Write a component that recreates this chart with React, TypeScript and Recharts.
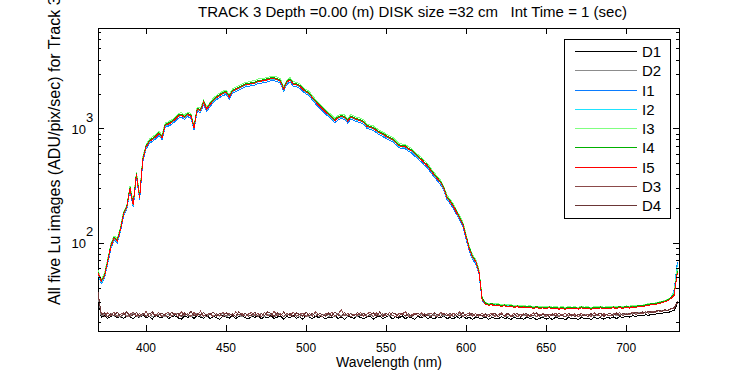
import React from "react";
import { LineChart, Line, XAxis, YAxis, Legend, ReferenceArea } from "recharts";

// ── Data (2 nm sampling) ─────────────────────────────────────────────────────

const WAVELENGTH = [
  370, 372, 374, 376, 378, 380, 382, 384, 386, 388, 390, 392, 394, 396, 398, 400, 402, 404, 406, 408,
  410, 412, 414, 416, 418, 420, 422, 424, 426, 428, 430, 432, 434, 436, 438, 440, 442, 444, 446, 448,
  450, 452, 454, 456, 458, 460, 462, 464, 466, 468, 470, 472, 474, 476, 478, 480, 482, 484, 486, 488,
  490, 492, 494, 496, 498, 500, 502, 504, 506, 508, 510, 512, 514, 516, 518, 520, 522, 524, 526, 528,
  530, 532, 534, 536, 538, 540, 542, 544, 546, 548, 550, 552, 554, 556, 558, 560, 562, 564, 566, 568,
  570, 572, 574, 576, 578, 580, 582, 584, 586, 588, 590, 592, 594, 596, 598, 600, 602, 604, 606, 608,
  610, 612, 614, 616, 618, 620, 622, 624, 626, 628, 630, 632, 634, 636, 638, 640, 642, 644, 646, 648,
  650, 652, 654, 656, 658, 660, 662, 664, 666, 668, 670, 672, 674, 676, 678, 680, 682, 684, 686, 688,
  690, 692, 694, 696, 698, 700, 702, 704, 706, 708, 710, 712, 714, 716, 718, 720, 722, 724, 726, 728,
  730, 732,
];

const D1 = [
  34, 22.4, 23.1, 21.9, 22.7, 23.5, 22.1, 22.9, 21.8, 23.2,
  22.5, 21.9, 23.0, 22.3, 23.6, 22.0, 22.8, 21.7, 23.3, 22.6,
  22.1, 23.4, 21.8, 22.7, 23.1, 22.2, 21.6, 23.0, 22.4, 22.9,
  21.9, 23.2, 22.5, 22.0, 23.5, 21.8, 22.8, 22.3, 21.5, 23.1,
  22.6, 22.0, 23.3, 21.9, 22.7, 23.0, 22.2, 21.7, 22.9, 22.4,
  23.2, 21.8, 22.6, 22.1, 23.4, 21.9, 22.5, 23.0, 21.6, 22.8,
  22.2, 23.1, 21.9, 22.6, 21.5, 23.3, 22.4, 21.8, 22.9, 22.3,
  23.0, 21.7, 22.5, 22.1, 23.2, 21.9, 22.7, 21.4, 22.8, 22.4,
  21.9, 23.1, 22.3, 21.8, 22.6, 23.0, 21.6, 22.4, 22.9, 21.8,
  22.5, 23.2, 21.7, 22.7, 22.0, 23.1, 21.8, 22.6, 22.2, 21.5,
  22.9, 22.1, 23.0, 21.8, 22.4, 21.6, 22.7, 22.2, 23.1, 21.9,
  22.3, 21.7, 22.8, 22.0, 23.0, 21.8, 22.5, 21.4, 22.6, 22.1,
  21.8, 22.6, 21.5, 22.3, 22.0, 21.6, 22.7, 21.9, 22.2, 21.4,
  22.5, 21.7, 22.1, 21.5, 22.6, 21.9, 22.3, 21.3, 22.0, 22.4,
  21.6, 22.2, 21.4, 22.5, 21.8, 22.0, 21.3, 22.4, 21.7, 22.1,
  21.5, 22.3, 21.8, 22.0, 21.4, 22.5, 21.9, 22.2, 21.6, 22.4,
  22.0, 22.6, 21.8, 22.7, 22.3, 22.9, 22.5, 23.1, 22.8, 23.3,
  23.0, 23.6, 23.3, 23.9, 23.7, 24.3, 24.0, 24.7, 24.5, 25.3,
  25.8, 29,
];

const D2 = [
  35, 23.0, 23.9, 22.6, 24.2, 22.9, 23.5, 22.4, 24.0, 23.1,
  22.7, 24.3, 23.2, 22.5, 23.8, 23.0, 24.4, 22.6, 23.3, 23.9,
  23.1, 22.6, 24.0, 22.9, 23.6, 24.5, 22.7, 23.2, 23.8, 22.5,
  23.5, 24.1, 22.8, 23.3, 22.6, 24.2, 23.0, 23.7, 22.9, 24.4,
  22.7, 23.4, 24.0, 22.8, 23.6, 22.5, 24.1, 23.2, 22.9, 23.8,
  23.0, 24.3, 22.6, 23.5, 23.9, 22.7, 23.4, 24.2, 22.8, 23.6,
  24.0, 22.9, 23.3, 22.6, 24.4, 23.1, 22.8, 23.7, 24.1, 22.7,
  23.5, 24.0, 22.8, 23.4, 22.6, 24.2, 23.0, 23.6, 22.9, 24.3,
  23.2, 22.7, 23.8, 24.1, 22.8, 23.4, 22.6, 24.0, 23.1, 23.7,
  24.2, 22.9, 23.3, 22.7, 23.9, 24.3, 22.8, 23.5, 22.6, 24.0,
  23.3, 23.8, 22.7, 24.1, 23.0, 23.6, 22.8, 24.4, 22.9, 23.5,
  23.9, 22.6, 23.4, 24.2, 22.8, 23.7, 23.0, 24.0, 22.7, 23.6,
  23.1, 22.6, 23.8, 22.9, 23.4, 22.7, 24.0, 23.0, 22.6, 23.5,
  22.8, 23.6, 22.9, 23.2, 24.0, 22.7, 23.3, 22.8, 23.7, 22.6,
  23.4, 22.9, 23.6, 22.7, 23.1, 23.8, 22.6, 23.3, 22.9, 23.5,
  22.8, 23.2, 23.9, 22.7, 23.4, 22.9, 23.6, 22.8, 23.3, 23.7,
  23.1, 23.8, 23.3, 23.9, 23.5, 24.2, 23.7, 24.4, 24.1, 24.6,
  24.3, 24.9, 24.6, 25.3, 24.9, 25.5, 25.4, 26.0, 25.8, 26.6,
  27.0, 30.5,
];

const I1 = [
  53, 44, 49, 65, 89, 106, 100, 125, 173, 197,
  288, 206, 384, 240, 518, 662, 739, 778, 816, 874,
  806, 1027, 1056, 1094, 1152, 1238, 1267, 1210, 1277, 1248,
  979, 1421, 1382, 1632, 1421, 1565, 1690, 1795, 1882, 1949,
  2006, 1824, 2045, 2122, 2189, 2256, 2333, 2352, 2390, 2419,
  2496, 2515, 2544, 2582, 2630, 2640, 2592, 2496, 2131, 2448,
  2573, 2362, 2342, 2266, 2122, 2016, 1939, 1776, 1651, 1536,
  1440, 1354, 1277, 1200, 1133, 1200, 1229, 1210, 1123, 1219,
  1181, 1152, 1133, 1094, 1008, 989, 970, 922, 883, 854,
  826, 797, 773, 730, 682, 672, 667, 638, 614, 576,
  542, 514, 480, 451, 413, 379, 350, 326, 288, 240,
  221, 202, 178, 158, 139, 108, 85, 72, 66, 54,
  31.5, 29.4, 28.9, 29.2, 28.5, 28.8, 28.3, 28.6, 28.0, 28.4,
  27.8, 28.2, 27.6, 28.0, 27.4, 27.9, 27.2, 27.7, 27.1, 27.6,
  27.0, 27.6, 26.9, 27.4, 26.8, 27.4, 26.7, 27.5, 26.9, 27.4,
  26.8, 27.6, 26.9, 27.4, 26.7, 27.5, 27.0, 27.6, 26.9, 27.5,
  27.0, 27.7, 27.1, 27.8, 27.2, 27.9, 27.4, 28.1, 27.7, 28.4,
  28.0, 28.8, 28.9, 29.5, 29.3, 30.1, 30.4, 31.1, 31.7, 33.2,
  39, 68,
];

const I2 = [
  54, 45, 50, 67, 92, 109, 103, 129, 178, 203,
  297, 213, 396, 248, 535, 683, 762, 802, 842, 901,
  832, 1059, 1089, 1129, 1188, 1277, 1307, 1247, 1317, 1287,
  1010, 1465, 1426, 1683, 1465, 1614, 1742, 1851, 1940, 2010,
  2069, 1881, 2109, 2188, 2257, 2327, 2406, 2426, 2465, 2495,
  2574, 2594, 2624, 2663, 2713, 2723, 2673, 2574, 2198, 2525,
  2653, 2435, 2416, 2336, 2188, 2079, 2000, 1832, 1703, 1584,
  1485, 1396, 1317, 1238, 1168, 1238, 1267, 1247, 1158, 1257,
  1218, 1188, 1168, 1129, 1040, 1020, 1000, 950, 911, 881,
  851, 822, 797, 752, 703, 693, 688, 658, 634, 594,
  559, 530, 495, 465, 426, 391, 361, 337, 297, 248,
  228, 208, 183, 163, 144, 112, 88, 74, 68, 55,
  32.5, 29.8, 29.2, 29.4, 28.7, 29.1, 28.5, 28.8, 28.2, 28.6,
  28.0, 28.4, 27.8, 28.2, 27.6, 28.1, 27.4, 27.9, 27.3, 27.8,
  27.2, 27.8, 27.1, 27.7, 27.0, 27.6, 26.9, 27.7, 27.1, 27.6,
  27.0, 27.8, 27.1, 27.6, 26.9, 27.7, 27.2, 27.8, 27.1, 27.7,
  27.2, 27.9, 27.3, 28.0, 27.4, 28.1, 27.6, 28.3, 27.9, 28.6,
  28.2, 29.0, 29.1, 29.7, 29.5, 30.3, 30.6, 31.3, 31.9, 33.5,
  38, 66,
];

const I3 = [
  58, 48, 54, 72, 98, 116, 109, 137, 189, 215,
  315, 226, 420, 263, 567, 725, 809, 851, 893, 956,
  882, 1124, 1155, 1197, 1260, 1355, 1386, 1323, 1397, 1365,
  1071, 1554, 1512, 1785, 1554, 1712, 1848, 1964, 2058, 2132,
  2195, 1995, 2237, 2321, 2394, 2468, 2552, 2573, 2615, 2646,
  2730, 2751, 2783, 2825, 2877, 2888, 2835, 2730, 2331, 2678,
  2814, 2583, 2562, 2478, 2321, 2205, 2121, 1943, 1806, 1680,
  1575, 1481, 1397, 1313, 1239, 1313, 1344, 1323, 1229, 1334,
  1292, 1260, 1239, 1197, 1103, 1082, 1061, 1008, 966, 935,
  903, 872, 845, 798, 746, 735, 730, 698, 672, 630,
  593, 562, 525, 494, 452, 415, 383, 357, 315, 263,
  242, 221, 194, 173, 152, 119, 93, 79, 72, 59,
  33.5, 30.4, 29.6, 29.9, 29.3, 29.4, 29.0, 29.1, 28.7, 28.9,
  28.4, 28.7, 28.3, 28.4, 28.0, 28.3, 27.8, 28.1, 27.7, 28.0,
  27.6, 28.0, 27.5, 27.8, 27.4, 27.8, 27.3, 27.8, 27.5, 27.7,
  27.4, 27.9, 27.5, 27.8, 27.3, 27.8, 27.6, 27.9, 27.5, 27.8,
  27.6, 28.0, 27.7, 28.1, 27.8, 28.2, 28.0, 28.4, 28.3, 28.7,
  28.6, 29.1, 29.4, 29.8, 29.8, 30.4, 30.9, 31.4, 32.2, 33.6,
  37, 60,
];

const I4 = [
  56, 47, 52, 69, 95, 112, 106, 133, 184, 209,
  306, 219, 408, 255, 551, 704, 785, 826, 867, 928,
  857, 1091, 1122, 1163, 1224, 1316, 1346, 1285, 1357, 1326,
  1040, 1510, 1469, 1734, 1510, 1663, 1795, 1907, 1999, 2071,
  2132, 1938, 2173, 2254, 2326, 2397, 2479, 2499, 2540, 2570,
  2652, 2672, 2703, 2744, 2795, 2805, 2754, 2652, 2264, 2601,
  2734, 2509, 2489, 2407, 2254, 2142, 2060, 1887, 1754, 1632,
  1530, 1438, 1357, 1275, 1204, 1275, 1306, 1285, 1193, 1295,
  1255, 1224, 1204, 1163, 1071, 1051, 1030, 979, 938, 908,
  877, 847, 821, 775, 724, 714, 709, 678, 653, 612,
  576, 546, 510, 479, 439, 403, 372, 347, 306, 255,
  235, 214, 189, 168, 148, 115, 91, 77, 70, 57,
  32.8, 29.9, 29.0, 29.5, 28.6, 29.0, 28.4, 28.8, 28.0, 28.5,
  27.9, 28.2, 27.7, 28.1, 27.5, 27.9, 27.3, 27.8, 27.2, 27.6,
  27.1, 27.6, 27.0, 27.5, 26.9, 27.4, 26.8, 27.5, 27.0, 27.4,
  26.9, 27.6, 27.0, 27.4, 26.8, 27.5, 27.1, 27.6, 27.0, 27.5,
  27.1, 27.7, 27.2, 27.8, 27.3, 27.9, 27.5, 28.1, 27.8, 28.4,
  28.1, 28.8, 29.0, 29.5, 29.4, 30.1, 30.5, 31.1, 31.8, 33.3,
  36, 57,
];

const I5 = [
  55, 46, 51, 68, 93, 110, 104, 130, 180, 205,
  300, 215, 400, 250, 540, 690, 770, 810, 850, 910,
  840, 1070, 1100, 1140, 1200, 1290, 1320, 1260, 1330, 1300,
  1020, 1480, 1440, 1700, 1480, 1630, 1760, 1870, 1960, 2030,
  2090, 1900, 2130, 2210, 2280, 2350, 2430, 2450, 2490, 2520,
  2600, 2620, 2650, 2690, 2740, 2750, 2700, 2600, 2220, 2550,
  2680, 2460, 2440, 2360, 2210, 2100, 2020, 1850, 1720, 1600,
  1500, 1410, 1330, 1250, 1180, 1250, 1280, 1260, 1170, 1270,
  1230, 1200, 1180, 1140, 1050, 1030, 1010, 960, 920, 890,
  860, 830, 805, 760, 710, 700, 695, 665, 640, 600,
  565, 535, 500, 470, 430, 395, 365, 340, 300, 250,
  230, 210, 185, 165, 145, 113, 89, 75, 69, 56,
  32, 29.2, 28.6, 28.9, 28.1, 28.5, 27.9, 28.3, 27.6, 28.0,
  27.4, 27.8, 27.2, 27.6, 27.0, 27.5, 26.8, 27.3, 26.7, 27.1,
  26.6, 27.2, 26.5, 27.0, 26.4, 26.9, 26.3, 27.0, 26.5, 26.9,
  26.4, 27.1, 26.5, 26.9, 26.3, 27.0, 26.6, 27.1, 26.5, 27.0,
  26.6, 27.2, 26.7, 27.3, 26.8, 27.4, 27.0, 27.6, 27.3, 27.9,
  27.6, 28.3, 28.4, 29.0, 28.8, 29.6, 29.9, 30.6, 31.2, 32.8,
  35, 55,
];

const D3 = [
  36, 24.2, 22.8, 24.6, 23.1, 25.0, 22.7, 23.9, 24.5, 22.6,
  23.8, 24.9, 22.9, 24.1, 23.3, 25.2, 22.8, 24.0, 23.5, 24.7,
  22.7, 23.9, 24.8, 23.0, 24.3, 22.6, 25.1, 23.4, 24.0, 22.9,
  24.6, 23.2, 25.4, 22.8, 23.7, 24.5, 22.6, 24.2, 23.1, 24.9,
  23.0, 24.4, 22.7, 25.0, 23.6, 24.1, 22.8, 23.9, 24.7, 23.2,
  24.3, 22.6, 24.8, 23.4, 22.9, 25.3, 23.1, 24.0, 22.7, 24.5,
  23.3, 24.9, 22.8, 23.8, 24.4, 22.6, 24.1, 23.0, 25.1, 23.5,
  22.7, 24.2, 23.6, 24.8, 22.9, 23.7, 26.2, 23.1, 24.3, 22.6,
  24.0, 23.3, 24.7, 22.8, 23.9, 25.0, 22.7, 24.4, 23.2, 24.1,
  22.9, 24.6, 23.4, 22.6, 24.2, 23.8, 25.2, 22.8, 23.5, 24.3,
  23.0, 24.7, 22.7, 23.9, 24.4, 23.1, 22.6, 24.8, 23.6, 24.0,
  22.8, 24.3, 23.3, 25.0, 22.7, 23.8, 24.5, 23.0, 24.1, 22.9,
  24.4, 22.6, 23.7, 24.2, 22.8, 23.5, 24.6, 22.7, 23.9, 23.1,
  24.3, 22.6, 23.8, 24.0, 22.9, 23.4, 24.5, 22.7, 23.6, 24.1,
  22.8, 23.9, 23.2, 24.4, 22.6, 23.7, 24.2, 22.9, 23.5, 24.0,
  22.7, 24.3, 23.1, 23.8, 22.8, 24.5, 23.3, 22.9, 24.1, 23.4,
  23.0, 24.2, 23.5, 24.6, 23.1, 24.0, 23.7, 24.8, 23.6, 24.4,
  24.1, 25.0, 24.3, 25.2, 24.7, 25.6, 25.1, 26.0, 25.6, 26.5,
  26.8, 31,
];

const D4 = [
  37, 23.6, 24.5, 22.7, 24.0, 23.3, 24.8, 22.9, 23.6, 25.1,
  22.8, 23.7, 24.6, 23.0, 24.2, 22.7, 23.9, 25.0, 22.9, 23.4,
  24.5, 23.1, 22.7, 24.7, 23.5, 24.1, 22.8, 24.4, 23.2, 25.3,
  22.9, 24.0, 23.4, 24.8, 22.6, 23.8, 24.9, 23.0, 24.3, 22.7,
  24.6, 23.3, 24.0, 22.8, 25.0, 23.1, 24.4, 22.9, 23.5, 24.7,
  22.7, 24.1, 23.3, 25.1, 24.2, 22.8, 24.6, 23.2, 24.9, 23.0,
  24.2, 22.7, 24.5, 23.6, 22.9, 24.8, 23.1, 24.3, 22.8, 24.0,
  23.9, 22.8, 24.4, 23.0, 24.9, 23.5, 22.7, 24.6, 23.2, 24.1,
  22.9, 24.7, 23.1, 24.3, 22.7, 23.8, 24.5, 23.0, 25.0, 22.8,
  24.2, 23.3, 24.6, 23.9, 22.8, 24.4, 23.0, 24.1, 22.9, 23.7,
  24.5, 22.8, 24.0, 23.2, 22.7, 24.6, 23.6, 22.9, 24.3, 23.0,
  24.4, 22.7, 24.1, 23.0, 24.7, 22.9, 23.4, 24.2, 22.8, 24.0,
  22.9, 24.0, 22.7, 23.6, 24.3, 22.8, 23.9, 23.2, 24.4, 22.6,
  23.5, 24.2, 22.7, 23.8, 24.1, 22.8, 23.3, 24.4, 22.9, 23.6,
  24.0, 22.7, 23.9, 22.9, 24.3, 23.1, 22.6, 24.2, 23.4, 22.8,
  24.0, 22.9, 23.6, 22.7, 24.2, 23.0, 23.7, 24.4, 22.8, 23.9,
  24.1, 23.2, 24.4, 23.0, 24.5, 23.6, 24.3, 23.8, 24.9, 24.2,
  25.0, 24.3, 25.4, 24.6, 25.0, 25.9, 25.3, 26.1, 25.7, 26.7,
  27.2, 30,
];

const X_TICKS = [400, 450, 500, 550, 600, 650, 700];
const Y_TICKS = [
  20, 30, 40, 50, 60, 70, 80, 90, 100, 200, 300, 400, 500, 600, 700, 800, 900,
  1000, 2000, 3000, 4000, 5000, 6000, 7000,
];
const Y_MAJOR: Record<number, string> = { 100: "2", 1000: "3" };

const SERIES = [
  { key: "D1", color: "#000000", values: D1 },
  { key: "D2", color: "#8c8c8c", values: D2 },
  { key: "I1", color: "#0a7cff", values: I1 },
  { key: "I2", color: "#1ee3ff", values: I2 },
  { key: "I3", color: "#80ff80", values: I3 },
  { key: "I4", color: "#00b000", values: I4 },
  { key: "I5", color: "#ff0000", values: I5 },
  { key: "D3", color: "#8b4a4a", values: D3 },
  { key: "D4", color: "#6b3636", values: D4 },
];

const data = WAVELENGTH.map((w, i) => {
  const row: Record<string, number> = { w };
  SERIES.forEach((s) => (row[s.key] = s.values[i]));
  return row;
});

// ── Layout ───────────────────────────────────────────────────────────────────

const W = 750;
const H = 375;
const PLOT_LEFT = 98;
const PLOT_RIGHT = 679;
const PLOT_TOP = 28;
const PLOT_BOTTOM = 331;
const FONT = "'Liberation Sans', Arial, Helvetica, sans-serif";

const XTick = (props: any) => {
  const { x, payload } = props;
  return (
    <g shapeRendering="crispEdges">
      <line x1={x} x2={x} y1={PLOT_BOTTOM} y2={PLOT_BOTTOM - 6} stroke="#000" />
      <line x1={x} x2={x} y1={PLOT_TOP} y2={PLOT_TOP + 6} stroke="#000" />
      <text x={x} y={PLOT_BOTTOM + 21} textAnchor="middle" fontSize={12} fontFamily={FONT} fill="#000">
        {payload.value}
      </text>
    </g>
  );
};

const YTick = (props: any) => {
  const { y, payload } = props;
  const exp = Y_MAJOR[payload.value];
  const len = exp ? 6 : 3;
  return (
    <g shapeRendering="crispEdges">
      <line x1={PLOT_LEFT} x2={PLOT_LEFT + len} y1={y} y2={y} stroke="#000" />
      <line x1={PLOT_RIGHT - len} x2={PLOT_RIGHT} y1={y} y2={y} stroke="#000" />
      {exp && (
        <g fontFamily={FONT} fill="#000" fontSize={13}>
          <text x={PLOT_LEFT - 12} y={y + 5} textAnchor="end">10</text>
          <text x={PLOT_LEFT - 12} y={y - 7}>{exp}</text>
        </g>
      )}
    </g>
  );
};

// legend keeps the plotting order and colours of SERIES
const LegendBox = () => (
  <div
    style={{
      width: 107,
      height: 180,
      border: "1px solid #000",
      background: "#fff",
      boxSizing: "border-box",
      fontFamily: FONT,
      fontSize: 15,
      paddingTop: 2,
    }}
  >
    {SERIES.map((s) => (
      <div key={s.key} style={{ display: "flex", alignItems: "center", height: 19.25 }}>
        <svg width={77} height={3} style={{ display: "block" }}>
          <line x1={10} x2={72} y1={1.5} y2={1.5} stroke={s.color} strokeWidth={1} shapeRendering="crispEdges" />
        </svg>
        <span style={{ lineHeight: "19px" }}>{s.key}</span>
      </div>
    ))}
  </div>
);

export default function App() {
  return (
    <div style={{ position: "absolute", left: 0, top: 0, width: W, height: H, background: "#fff" }}>
      <LineChart
        width={W}
        height={H}
        data={data}
        margin={{ top: PLOT_TOP, right: W - PLOT_RIGHT, bottom: 0, left: 0 }}
      >
        <XAxis
          dataKey="w"
          type="number"
          domain={[370, 733]}
          allowDataOverflow
          ticks={X_TICKS}
          height={H - PLOT_BOTTOM}
          tick={<XTick />}
          tickLine={false}
          axisLine={false}
          tickSize={0}
          tickMargin={0}
          interval={0}
        />
        <YAxis
          type="number"
          scale="log"
          domain={[17, 7630]}
          allowDataOverflow
          ticks={Y_TICKS}
          width={PLOT_LEFT}
          tick={<YTick />}
          tickLine={false}
          axisLine={false}
          tickSize={0}
          tickMargin={0}
          interval={0}
        />
        <Legend
          content={<LegendBox />}
          layout="vertical"
          verticalAlign="middle"
          align="center"
          wrapperStyle={{ left: 564, top: 39, width: 107, height: 180 }}
        />
        {SERIES.map((s) => (
          <Line
            key={s.key}
            dataKey={s.key}
            name={s.key}
            stroke={s.color}
            strokeWidth={1}
            dot={false}
            type="linear"
            shapeRendering="crispEdges"
            isAnimationActive={false}
          />
        ))}
        <ReferenceArea
          x1={370}
          x2={733}
          y1={17}
          y2={7630}
          fill="none"
          stroke="#000"
          strokeWidth={1}
          shapeRendering="crispEdges"
          ifOverflow="visible"
        />
        <text x={198} y={17} fontSize={15} fontFamily={FONT} fill="#000" style={{ whiteSpace: "pre" }}>
          {"TRACK 3 Depth =0.00 (m) DISK size =32 cm   Int Time = 1 (sec)"}
        </text>
        <text x={389} y={367} textAnchor="middle" fontSize={14} fontFamily={FONT} fill="#000">
          Wavelength (nm)
        </text>
        <text
          x={60}
          y={305}
          transform="rotate(-90, 60, 305)"
          fontSize={16}
          fontFamily={FONT}
          fill="#000"
        >
          All five Lu images (ADU/pix/sec) for Track 3
        </text>
      </LineChart>
    </div>
  );
}
